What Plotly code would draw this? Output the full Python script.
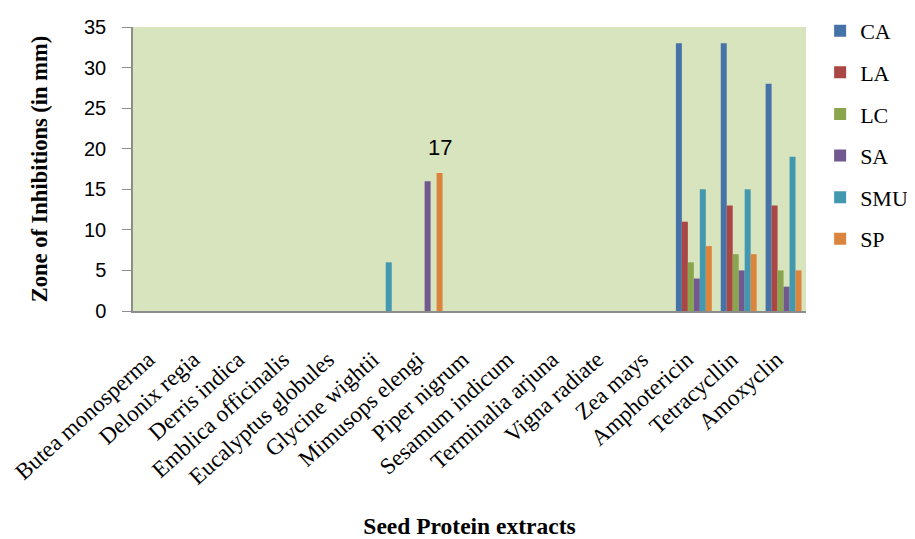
import plotly.graph_objects as go

categories = ["Butea monosperma", "Delonix regia", "Derris indica", "Emblica officinalis",
              "Eucalyptus globules", "Glycine wightii", "Mimusops elengi", "Piper nigrum",
              "Sesamum indicum", "Terminalia arjuna", "Vigna radiate", "Zea mays",
              "Amphotericin", "Tetracycllin", "Amoxyclin"]

CA  = [0, 0, 0, 0, 0, 0, 0, 0, 0, 0, 0, 0, 33, 33, 28]
LA  = [0, 0, 0, 0, 0, 0, 0, 0, 0, 0, 0, 0, 11, 13, 13]
LC  = [0, 0, 0, 0, 0, 0, 0, 0, 0, 0, 0, 0, 6, 7, 5]
SA  = [0, 0, 0, 0, 0, 0, 16, 0, 0, 0, 0, 0, 4, 5, 3]
SMU = [0, 0, 0, 0, 0, 6, 0, 0, 0, 0, 0, 0, 15, 15, 19]
SP  = [0, 0, 0, 0, 0, 0, 17, 0, 0, 0, 0, 0, 8, 7, 5]

series = [("CA", CA, "#4572A7"), ("LA", LA, "#AA4643"), ("LC", LC, "#89A54E"),
          ("SA", SA, "#71588F"), ("SMU", SMU, "#4198AF"), ("SP", SP, "#DB843D")]

fig = go.Figure()
for name, vals, col in series:
    fig.add_trace(go.Bar(x=categories, y=vals, name=name, legendgroup=name,
                         marker=dict(color=col, line=dict(width=0))))

fig.add_annotation(x="Mimusops elengi", y=17, text="17", showarrow=False,
                   xshift=15, yshift=11, yanchor="bottom",
                   font=dict(family="Liberation Sans", size=22, color="black"))

serif = "Liberation Serif, Times New Roman, serif"
fig.update_layout(
    width=907, height=531,
    margin=dict(l=125, r=109, t=19, b=228, autoexpand=False),
    paper_bgcolor="white", plot_bgcolor="#D7E4BD",
    barmode="group", bargap=0.2, bargroupgap=0,
    legend=dict(x=1.021, xanchor="left", y=1.06, yanchor="top",
                font=dict(family=serif, size=22, color="black"),
                tracegroupgap=10, bgcolor="rgba(0,0,0,0)"),
    xaxis=dict(tickangle=-42, tickfont=dict(family=serif, size=23, color="black"),
               showline=True, linecolor="#8C8C8C", linewidth=2, showgrid=False,
               ticks="", ticklabelstandoff=24, ticklabelshift=-7, automargin=False,
               title=dict(text="<b>Seed Protein extracts</b>", standoff=38,
                          font=dict(family=serif, size=23.5, color="black"))),
    yaxis=dict(range=[0, 35], dtick=5, tickfont=dict(family="Liberation Sans", size=20, color="black"),
               showline=True, linecolor="#8C8C8C", linewidth=1.5, showgrid=False, zeroline=False,
               ticks="outside", ticklen=9, tickcolor="#8C8C8C", ticklabelstandoff=12,
               automargin=False,
               title=dict(text="<b>Zone of Inhibitions (in mm)</b>", standoff=30,
                          font=dict(family=serif, size=22.5, color="black"))),
)

fig.write_html("out.html")
